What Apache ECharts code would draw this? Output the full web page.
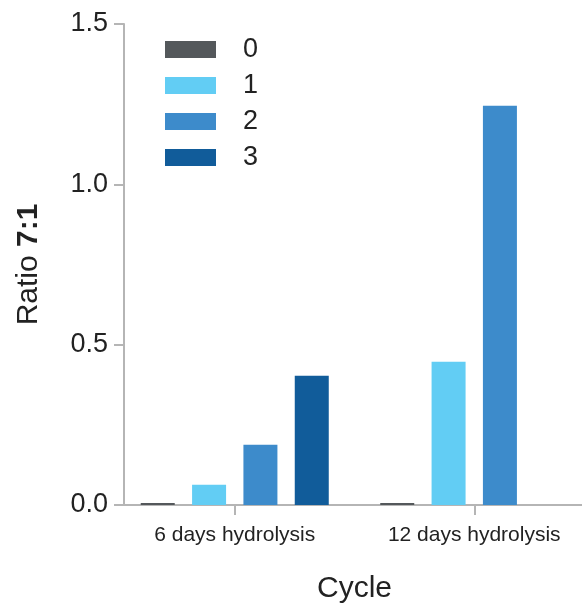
<!DOCTYPE html>
<html>
<head>
<meta charset="utf-8">
<script src="https://cdn.jsdelivr.net/npm/echarts@6/dist/echarts.min.js"></script>
<style>html,body{margin:0;padding:0;background:#fff}#c{width:582px;height:606px}</style>
</head>
<body>
<div id="c"></div>
<script>
var categories = ['6 days hydrolysis', '12 days hydrolysis'];
var seriesNames = ['0', '1', '2', '3'];
var cycle0 = [0.006, 0.006];
var cycle1 = [0.063, 0.447];
var cycle2 = [0.188, 1.245];
var cycle3 = [0.403, null];
var yTicks = [0, 0.5, 1.0, 1.5];
var colors = ['#54585b', '#62cdf4', '#3d8bcb', '#115c9a'];

var values = [cycle0, cycle1, cycle2, cycle3];
var font = 'Liberation Sans, Arial, Helvetica, sans-serif';
var chart = echarts.init(document.getElementById('c'), null, {renderer: 'canvas'});
chart.setOption({
  animation: false,
  textStyle: {fontFamily: font},
  grid: {left: 115, top: 24, width: 479, height: 481, containLabel: false, outerBoundsMode: 'none'},
  legend: {
    orient: 'vertical', left: 160, top: 31,
    itemWidth: 51, itemHeight: 17, itemGap: 9,
    icon: 'rect',
    textStyle: {fontSize: 27, color: '#222', fontFamily: font, padding: [0, 0, 0, 22]},
    data: seriesNames
  },
  xAxis: {
    type: 'category', data: categories,
    name: 'Cycle', nameLocation: 'middle', nameGap: 69,
    nameTextStyle: {fontSize: 30, color: '#222', fontFamily: font},
    axisLine: {lineStyle: {color: '#b5b5b5', width: 2}},
    axisTick: {show: true, alignWithLabel: true, length: 10, lineStyle: {color: '#b5b5b5', width: 2}},
    axisLabel: {fontSize: 21, color: '#222', margin: 20, fontFamily: font}
  },
  yAxis: {
    type: 'value', min: 0, max: 1.5, interval: 0.5, offset: -9,
    name: '{a|Ratio }{b|7:1}', nameLocation: 'middle', nameGap: 80,
    nameTextStyle: {rich: {a: {fontSize: 30, color: '#222', fontFamily: font}, b: {fontSize: 30, color: '#222', fontWeight: 'bold', fontFamily: font}}},
    axisLine: {show: true, lineStyle: {color: '#b5b5b5', width: 2}},
    axisTick: {show: true, length: 10, lineStyle: {color: '#b5b5b5', width: 2}},
    splitLine: {show: false},
    axisLabel: {fontSize: 27, color: '#222', margin: 16, fontFamily: font,
      formatter: function (v) { return yTicks.indexOf(v) >= 0 ? v.toFixed(1) : ''; }}
  },
  series: seriesNames.map(function (n, i) {
    return {
      name: n, type: 'bar', data: values[i],
      barWidth: 34, barGap: '51%', barCategoryGap: '21%',
      itemStyle: {color: colors[i]}
    };
  })
});
</script>
</body>
</html>
